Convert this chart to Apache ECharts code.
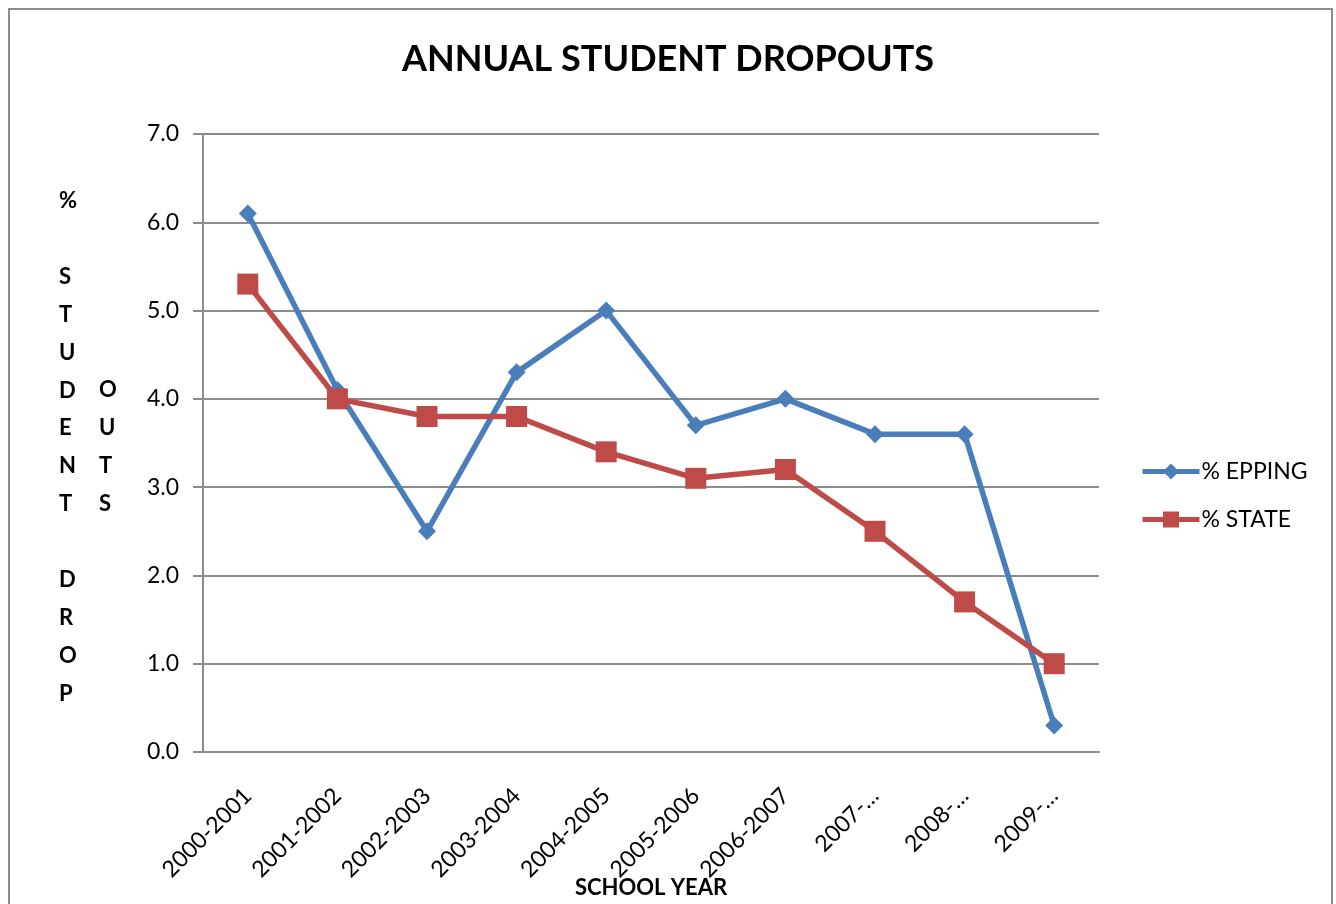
<!DOCTYPE html>
<html>
<head>
<meta charset="utf-8">
<script src="https://cdn.jsdelivr.net/npm/echarts@6/dist/echarts.min.js"></script>
<style>
  html, body { margin: 0; padding: 0; background: #fff; }
  #chart { width: 1336px; height: 904px; }
</style>
</head>
<body>
<div id="chart"></div>
<script>
// school years (last three are cut off in the original)
const years = ['2000-2001', '2001-2002', '2002-2003', '2003-2004', '2004-2005',
  '2005-2006', '2006-2007', '2007-…', '2008-…', '2009-…']
const epping = [6.1, 4.1, 2.5, 4.3, 5.0, 3.7, 4.0, 3.6, 3.6, 0.3]
const state = [5.3, 4.0, 3.8, 3.8, 3.4, 3.1, 3.2, 2.5, 1.7, 1.0]

const FONT = 'Lato, "Open Sans", sans-serif'
const GRAY = '#8c8c8c'

let myChart = echarts.init(document.getElementById('chart'))
myChart.setOption({
  animation: false,
  textStyle: { fontFamily: FONT },
  title: {
    text: 'ANNUAL STUDENT DROPOUTS',
    left: 'center',
    top: 36,
    textStyle: { fontSize: 36, fontWeight: 'bold', color: '#000', fontFamily: FONT }
  },
  legend: {
    orient: 'vertical',
    left: 1140,
    top: 460,
    padding: 0,
    itemWidth: 57,
    itemHeight: 20,
    itemGap: 25,
    lineStyle: { width: 5 },
    textStyle: { fontSize: 23, color: '#000', fontFamily: FONT, padding: [0, 0, 0, -3] },
    data: ['% EPPING', '% STATE']
  },
  grid: { left: 203, right: 237, top: 134, bottom: 152, outerBoundsMode: 'none', containLabel: false },
  xAxis: {
    type: 'category',
    data: years,
    boundaryGap: true,
    name: 'SCHOOL YEAR',
    nameLocation: 'middle',
    nameGap: 125,
    nameMoveOverlap: false,
    nameTextStyle: { fontSize: 22, fontWeight: 'bold', color: '#000', fontFamily: FONT },
    axisLine: { lineStyle: { color: GRAY, width: 2 } },
    axisTick: { length: 9, lineStyle: { color: GRAY, width: 2 } },
    axisLabel: { rotate: 45, fontSize: 23, color: '#000', margin: 40, fontFamily: FONT }
  },
  yAxis: {
    type: 'value',
    min: 0,
    max: 7,
    interval: 1,
    axisLine: { show: true, lineStyle: { color: GRAY, width: 2 } },
    axisTick: { show: true, length: 10, lineStyle: { color: GRAY, width: 2 } },
    axisLabel: {
      fontSize: 23,
      color: '#000',
      margin: 24,
      fontFamily: FONT,
      formatter: v => v.toFixed(1)
    },
    splitLine: { lineStyle: { color: GRAY, width: 2 } }
  },
  graphic: [
    {
      type: 'rect',
      shape: { x: 9, y: 9, width: 1323, height: 910 },
      style: { fill: 'none', stroke: '#8c8c8c', lineWidth: 2 },
      silent: true
    },
    {
      type: 'text',
      left: 59,
      top: 182,
      style: {
        text: '%\n\nS\nT\nU\nD\nE\nN\nT\n\nD\nR\nO\nP',
        font: 'bold 22px ' + FONT,
        lineHeight: 37.9,
        fill: '#000',
        align: 'center'
      }
    },
    {
      type: 'text',
      left: 99,
      top: 371,
      style: {
        text: 'O\nU\nT\nS',
        font: 'bold 22px ' + FONT,
        lineHeight: 37.9,
        fill: '#000',
        align: 'center'
      }
    }
  ],
  series: [
    {
      name: '% EPPING',
      type: 'line',
      data: epping,
      symbol: 'diamond',
      symbolSize: 18,
      lineStyle: { color: '#4a7ebb', width: 5.5 },
      itemStyle: { color: '#4a7ebb' }
    },
    {
      name: '% STATE',
      type: 'line',
      data: state,
      symbol: 'rect',
      symbolSize: 21,
      lineStyle: { color: '#be4b48', width: 5.5 },
      itemStyle: { color: '#be4b48' }
    }
  ]
})
</script>
</body>
</html>
